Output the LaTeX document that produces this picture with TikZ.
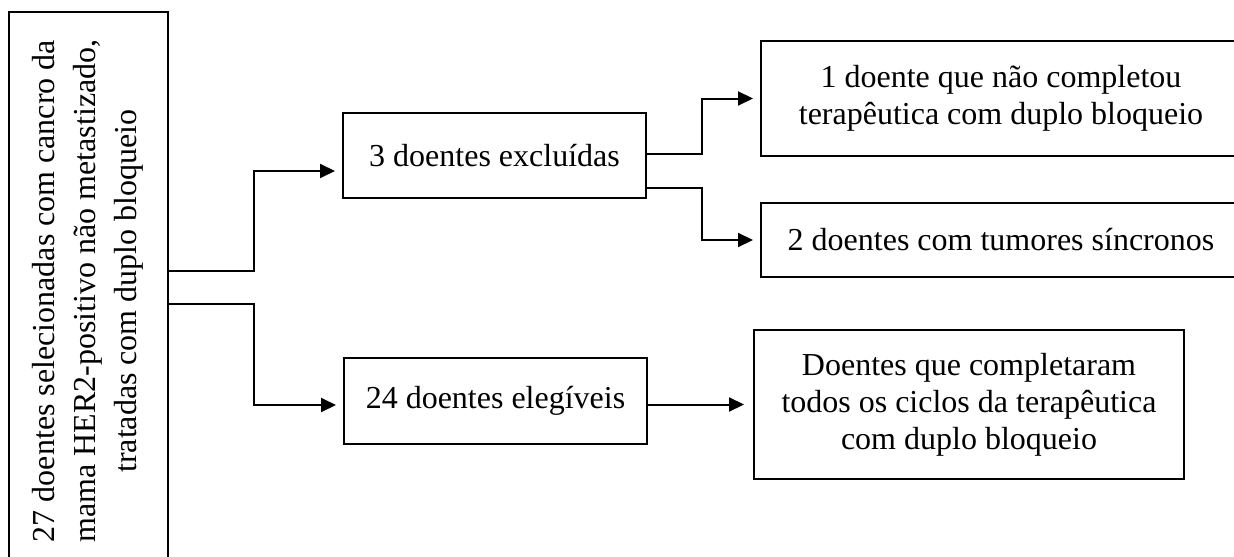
\documentclass[tikz,border=0pt]{standalone}
\usepackage{fontspec}
\setmainfont{Liberation Serif}
\usetikzlibrary{arrows.meta,calc}
\begin{document}
\begin{tikzpicture}[x=0.5pt,y=-0.5pt,
  txt/.style={font=\fontsize{16}{18.6}\selectfont,align=center,inner sep=0pt},
  box/.style={txt,draw,line width=1pt,anchor=north west},
  arr/.style={line width=1pt,-{Triangle[length=7.5pt,width=7pt]},shorten >=3.5pt}]
\useasboundingbox (0,0) rectangle (1234,556);
\node[box,minimum width=79.5pt,minimum height=282pt] (src) at (8,11) {};
\node[txt,rotate=90,font=\fontsize{16}{20.5}\selectfont] (srctxt) at (88,291) {27 doentes selecionadas com cancro da\\mama HER2-positivo não metastizado,\\tratadas com duplo bloqueio};
\node[box,minimum width=151.5pt,minimum height=42.5pt] (excl) at (342,112) {3 doentes excluídas};
\node[box,minimum width=151.5pt,minimum height=43pt] (elig) at (343,357) {24 doentes elegíveis};
\node[box,minimum width=240pt,minimum height=57.5pt] (nc) at (760,40) {1 doente que não completou\\terapêutica com duplo bloqueio};
\node[box,minimum width=240pt,minimum height=37pt] (sin) at (760,202) {2 doentes com tumores síncronos};
\node[box,minimum width=215pt,minimum height=74.5pt] (comp) at (753,329) {Doentes que completaram\\todos os ciclos da terapêutica\\com duplo bloqueio};
\draw[arr] ([yshift=11.5pt]src.east) -- ++(85,0) |- ([yshift=-7.75pt]excl.west);
\draw[arr] ([yshift=-5pt]src.east) -- ++(85,0) |- ([yshift=-2pt]elig.west);
\draw[arr] ([yshift=0.75pt]excl.east) -- ++(55,0) |- (nc.west);
\draw[arr] ([yshift=-16.25pt]excl.east) -- ++(55,0) |- (sin.west);
\draw[arr,shorten >=4.5pt] (comp.west -| elig.east) -- (comp.west);
\end{tikzpicture}
\end{document}
